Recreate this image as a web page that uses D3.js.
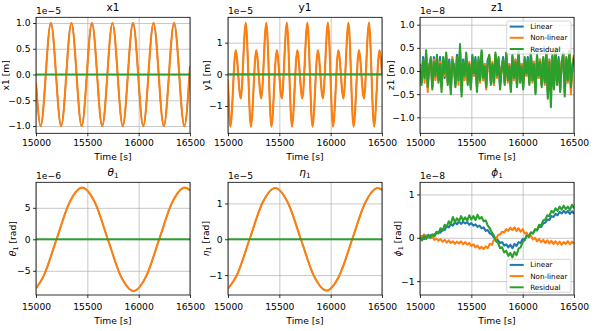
<!DOCTYPE html>
<html>
<head>
<meta charset="utf-8">
<script src="https://cdn.jsdelivr.net/npm/d3@7"></script>
<style>
  body { margin: 0; background: #fff; }
  text { font-family: "DejaVu Sans", sans-serif; fill: #000; }
</style>
</head>
<body>
<svg id="fig"></svg>
<script>
// ---- data ----
const timeTicks = [15000, 15500, 16000, 16500];

// x1: oscillation, period ~200 s (extrema)
const x1T = [15000, 15045, 15145, 15245, 15345, 15445, 15545, 15645, 15745, 15845, 15945, 16045, 16145, 16245, 16345, 16445, 16500];
const x1V = [-0.16, -1.0, 1.0, -1.0, 1.0, -1.0, 1.0, -1.0, 1.0, -1.0, 1.0, -1.0, 1.0, -1.0, 1.0, -1.0, 0.16];

// y1: two-frequency oscillation (extrema)
const y1T = [15000,
  15023, 15075, 15124, 15173, 15223, 15275, 15324, 15373,
  15423, 15475, 15524, 15573, 15623, 15675, 15724, 15773,
  15823, 15875, 15924, 15973, 16023, 16075, 16124, 16173,
  16223, 16275, 16324, 16373, 16423, 16475, 16500];
const y1V = [-0.2,
  -1.65, 0.76, -0.76, 1.63, -1.65, 0.76, -0.76, 1.63,
  -1.65, 0.76, -0.76, 1.63, -1.65, 0.76, -0.76, 1.63,
  -1.65, 0.76, -0.76, 1.63, -1.65, 0.76, -0.76, 1.63,
  -1.65, 0.76, -0.76, 1.63, -1.65, 0.76, 0.0];

// theta1 / eta1: slow oscillation, period ~1000 s
const thT = [15000, 15075, 15200, 15325, 15450, 15575, 15700, 15825, 15950, 16075, 16200, 16325, 16450, 16500];
const thV = [-7.8, -5.8, 0, 5.8, 8.2, 5.8, 0, -5.8, -8.2, -5.8, 0, 5.8, 8.2, 7.8];
const etT = [15000, 15085, 15210, 15335, 15460, 15585, 15710, 15835, 15960, 16085, 16210, 16335, 16460, 16500];
const etV = [-1.38, -1.01, 0, 1.01, 1.43, 1.01, 0, -1.01, -1.43, -1.01, 0, 1.01, 1.43, 1.38];

// residuals of the smooth channels stay at zero
const flatT = [15000, 16500];
const flatV = [0, 0];

// z1: noise, sampled every 15 s
const zT = d3.range(15000, 16501, 15);
const zLin = [0.15,-0.25,0.30,-0.10,0.35,-0.25,0.05,0.25,-0.35,0.30,
  -0.15,0.25,-0.20,0.30,-0.30,0.20,-0.15,0.35,-0.20,0.25,
  -0.40,0.20,0.15,-0.30,0.35,-0.15,0.45,-0.45,0.25,-0.15,
  0.35,-0.20,0.10,-0.35,0.30,-0.10,0.30,-0.35,0.20,-0.15,
  0.40,-0.20,0.15,-0.30,0.25,0.30,-0.20,0.10,-0.30,0.35,
  -0.05,0.25,-0.35,0.10,0.30,-0.25,0.35,-0.15,0.15,-0.40,
  0.30,-0.10,0.25,-0.30,0.40,-0.20,0.15,-0.35,0.25,-0.10,
  0.30,-0.25,0.35,-0.15,0.20,-0.45,0.30,-0.15,0.25,-0.30,
  0.25,-0.20,0.40,-0.50,0.25,-0.45,0.30,-0.35,0.45,-0.25,
  0.30,-0.40,0.20,0.35,-0.45,0.25,-0.15,0.40,-0.30,0.15,0.25];
const zNon = [0.10,-0.20,0.20,-0.25,0.30,-0.45,0.15,0.20,-0.30,0.25,
  -0.20,0.30,-0.15,0.20,-0.35,0.25,-0.10,0.30,-0.25,0.15,
  -0.35,0.30,0.05,-0.25,0.25,-0.30,0.40,-0.40,0.15,-0.20,
  0.30,-0.25,0.20,-0.30,0.30,-0.10,0.20,-0.35,0.25,-0.25,
  0.35,-0.20,0.15,-0.40,0.15,0.30,-0.25,0.20,-0.30,0.35,
  -0.15,0.25,-0.30,0.10,0.20,-0.25,0.35,-0.25,0.15,-0.35,
  0.30,-0.20,0.25,-0.30,0.40,-0.20,0.15,-0.30,0.25,-0.10,
  0.20,-0.25,0.35,-0.25,0.20,-0.40,0.30,-0.15,0.25,-0.30,
  0.25,-0.30,0.40,-0.45,0.25,-0.50,0.30,-0.35,0.40,-0.25,
  0.20,-0.40,0.20,0.35,-0.45,0.25,-0.25,0.40,-0.50,0.15,0.35];
const zRes = [0.05,-0.30,0.25,-0.15,0.45,-0.35,0.10,0.30,-0.40,0.20,
  -0.10,0.35,-0.25,0.15,-0.45,0.30,-0.05,0.40,-0.30,0.20,
  -0.50,0.25,0.10,-0.35,0.30,-0.20,0.58,-0.55,0.20,-0.10,
  0.40,-0.30,0.15,-0.40,0.35,-0.05,0.25,-0.45,0.30,-0.20,
  0.45,-0.15,0.10,-0.35,0.20,0.35,-0.30,0.15,-0.25,0.40,
  -0.10,0.30,-0.40,0.05,0.25,-0.30,0.40,-0.20,0.10,-0.45,
  0.35,-0.15,0.20,-0.35,0.45,-0.25,0.10,-0.40,0.30,-0.05,
  0.25,-0.30,0.40,-0.20,0.15,-0.50,0.35,-0.10,0.20,-0.35,
  0.30,-0.25,0.45,-0.60,0.20,-0.78,0.35,-0.40,0.50,-0.30,
  0.25,-0.45,0.15,0.40,-0.55,0.30,-0.20,0.45,-0.35,0.10,0.30];

// phi1: slow drift plus noise, sampled every 20 s
const phT = d3.range(15000, 16501, 20);
const phLin = [0.00,0.04,-0.03,0.05,0.01,0.06,0.02,0.08,0.10,0.14,
  0.12,0.20,0.18,0.26,0.24,0.32,0.28,0.36,0.31,0.38,
  0.32,0.37,0.33,0.36,0.30,0.34,0.28,0.31,0.25,0.28,
  0.22,0.24,0.16,0.18,0.10,0.08,0.01,-0.02,-0.06,-0.12,
  -0.10,-0.18,-0.15,-0.22,-0.16,-0.24,-0.14,-0.19,-0.10,-0.12,
  -0.03,-0.05,0.06,0.03,0.12,0.10,0.18,0.17,0.26,0.25,
  0.33,0.35,0.42,0.41,0.50,0.48,0.55,0.52,0.60,0.56,
  0.62,0.57,0.62,0.55,0.61,0.56];
const phNon = [0.05,0.00,0.08,0.02,0.06,-0.01,0.03,-0.05,-0.02,-0.07,
  -0.03,-0.09,-0.05,-0.11,-0.06,-0.12,-0.08,-0.14,-0.09,-0.13,
  -0.08,-0.15,-0.10,-0.16,-0.12,-0.19,-0.15,-0.22,-0.18,-0.25,
  -0.21,-0.26,-0.20,-0.24,-0.14,-0.16,-0.05,-0.02,0.06,0.08,
  0.14,0.12,0.20,0.16,0.23,0.18,0.24,0.16,0.22,0.14,
  0.20,0.10,0.12,0.02,0.05,-0.04,0.00,-0.08,-0.03,-0.10,
  -0.05,-0.12,-0.06,-0.13,-0.07,-0.14,-0.08,-0.15,-0.09,-0.16,
  -0.10,-0.14,-0.08,-0.15,-0.09,-0.14];
const phRes = [0.02,-0.06,0.05,-0.03,0.07,0.00,0.08,0.03,0.14,0.10,
  0.22,0.16,0.30,0.25,0.38,0.32,0.48,0.36,0.45,0.38,
  0.50,0.40,0.47,0.39,0.52,0.42,0.50,0.41,0.53,0.44,
  0.48,0.38,0.40,0.28,0.22,0.12,0.05,-0.08,-0.12,-0.24,
  -0.22,-0.34,-0.30,-0.42,-0.35,-0.45,-0.33,-0.40,-0.25,-0.22,
  -0.10,-0.05,0.05,0.02,0.12,0.10,0.20,0.18,0.30,0.28,
  0.40,0.42,0.52,0.50,0.62,0.58,0.68,0.62,0.72,0.65,
  0.74,0.66,0.72,0.64,0.76,0.68];

const seriesNames = ['Linear', 'Non-linear', 'Residual'];
const colors = ['#1f77b4', '#ff7f0e', '#2ca02c'];

// ---- layout ----
const W = 598, H = 331;
const COLS = [36, 228, 420];
const PW = 154;
const ROWS = [
  {top: 17.3, h: 116, tickPad: 3.3, xlab: 26.8},
  {top: 182.3, h: 112.7, tickPad: 5, xlab: 29}
];
const FS = 9.2;   // tick / label font size

const panels = [
  {title: [{t: 'x1'}], ylabel: [{t: 'x1 [m]'}], exp: '1e\u22125', col: 0, row: 0,
   yDomain: [-1.142, 1.111], yTicks: [-1, -0.5, 0, 0.5, 1], fmt: '.1f', ylabX: -27.3, smooth: true,
   data: [[x1T, x1V], [x1T, x1V], [flatT, flatV]]},
  {title: [{t: 'y1'}], ylabel: [{t: 'y1 [m]'}], exp: '1e\u22125', col: 1, row: 0,
   yDomain: [-1.86, 1.80], yTicks: [-1, 0, 1], fmt: 'd', ylabX: -18, smooth: true,
   data: [[y1T, y1V], [y1T, y1V], [flatT, flatV]]},
  {title: [{t: 'z1'}], ylabel: [{t: 'z1 [m]'}], exp: '1e\u22128', col: 2, row: 0,
   yDomain: [-1.345, 1.16], yTicks: [-1, -0.5, 0, 0.5, 1], fmt: '.1f', ylabX: -26.3, smooth: false,
   data: [[zT, zLin], [zT, zNon], [zT, zRes]], legend: {x: 506.7, y: 21}},
  {title: [{t: '\u03b8', it: true}, {t: '1', sub: true}], ylabel: [{t: '\u03b8', it: true}, {t: '1', sub: true}, {t: ' [rad]'}],
   exp: '1e\u22126', col: 0, row: 1,
   yDomain: [-8.84, 9.05], yTicks: [-5, 0, 5], fmt: 'd', ylabX: -20.5, smooth: true,
   data: [[thT, thV], [thT, thV], [flatT, flatV]]},
  {title: [{t: '\u03b7', it: true}, {t: '1', sub: true}], ylabel: [{t: '\u03b7', it: true}, {t: '1', sub: true}, {t: ' [rad]'}],
   exp: '1e\u22125', col: 1, row: 1,
   yDomain: [-1.556, 1.59], yTicks: [-1, 0, 1], fmt: 'd', ylabX: -19, smooth: true,
   data: [[etT, etV], [etT, etV], [flatT, flatV]]},
  {title: [{t: '\u03d5', it: true}, {t: '1', sub: true}], ylabel: [{t: '\u03d5', it: true}, {t: '1', sub: true}, {t: ' [rad]'}],
   exp: '1e\u22128', col: 2, row: 1,
   yDomain: [-1.32, 1.28], yTicks: [-1, 0, 1], fmt: 'd', ylabX: -19, smooth: false,
   data: [[phT, phLin], [phT, phNon], [phT, phRes]], legend: {x: 506.7, y: 259.3}}
];

const svg = d3.select('#fig').attr('width', W).attr('height', H);
svg.append('rect').attr('width', W).attr('height', H).attr('fill', '#fff');

// write a label that may hold italic greek letters and subscripts
function mathText(sel, parts, size) {
  let down = false;
  parts.forEach(p => {
    const ts = sel.append('tspan').text(p.t);
    if (p.it) ts.attr('font-style', 'italic');
    if (p.sub) {
      ts.attr('font-size', size * 0.7).attr('dy', size * 0.22);
      down = true;
    } else if (down) {
      ts.attr('dy', -size * 0.22);
      down = false;
    }
  });
}

const minus = s => s.replace('-', '\u2212');

panels.forEach((p, i) => {
  const left = COLS[p.col];
  const row = ROWS[p.row];
  const top = row.top;
  const ph = row.h;

  const x = d3.scaleLinear().domain([15000, 16500]).range([0, PW]);
  const y = d3.scaleLinear().domain(p.yDomain).range([ph, 0]);

  const g = svg.append('g').attr('transform', `translate(${left},${top})`);

  g.append('clipPath').attr('id', 'clip' + i)
    .append('rect').attr('width', PW).attr('height', ph);

  // grid
  g.append('g').attr('transform', `translate(0,${ph})`)
    .call(d3.axisBottom(x).tickValues(timeTicks).tickSize(-ph).tickFormat(''))
    .call(a => a.select('.domain').remove())
    .selectAll('line').attr('stroke', '#b0b0b0').attr('stroke-width', 0.7);
  g.append('g')
    .call(d3.axisLeft(y).tickValues(p.yTicks).tickSize(-PW).tickFormat(''))
    .call(a => a.select('.domain').remove())
    .selectAll('line').attr('stroke', '#b0b0b0').attr('stroke-width', 0.7);

  // lines
  const line = d3.line()
    .x(d => x(d[0]))
    .y(d => y(d[1]))
    .curve(p.smooth ? d3.curveMonotoneX : d3.curveLinear);

  p.data.forEach((s, k) => {
    const pts = s[0].map((t, j) => [t, s[1][j]]);
    // on the smooth panels the linear curve lies fully under the non-linear one
    const sw = (p.smooth && k === 0) ? 1.4 : 2.1;
    g.append('path')
      .datum(pts)
      .attr('clip-path', `url(#clip${i})`)
      .attr('fill', 'none')
      .attr('stroke', colors[k])
      .attr('stroke-width', sw)
      .attr('stroke-linejoin', 'round')
      .attr('d', line);
  });

  // spines
  g.append('rect').attr('width', PW).attr('height', ph)
    .attr('fill', 'none').attr('stroke', '#000').attr('stroke-width', 0.8);

  // axes
  const xa = g.append('g').attr('transform', `translate(0,${ph})`)
    .call(d3.axisBottom(x).tickValues(timeTicks).tickSize(3).tickPadding(row.tickPad).tickFormat(d3.format('d')));
  const ya = g.append('g')
    .call(d3.axisLeft(y).tickValues(p.yTicks).tickSize(3).tickPadding(2.5)
      .tickFormat(d => minus(d3.format(p.fmt)(d))));
  [xa, ya].forEach(a => {
    a.select('.domain').remove();
    a.attr('font-family', null).attr('font-size', null);
    a.selectAll('line').attr('stroke', '#000').attr('stroke-width', 0.8);
    a.selectAll('text').attr('font-size', FS).attr('fill', '#000');
  });

  // offset text
  g.append('text').attr('x', 0).attr('y', -3.3)
    .attr('font-size', FS).text(p.exp);

  // title
  const tt = g.append('text').attr('x', PW / 2).attr('y', -6.6)
    .attr('text-anchor', 'middle').attr('font-size', 10.5);
  mathText(tt, p.title, 10.5);

  // x label
  g.append('text').attr('x', PW / 2).attr('y', ph + row.xlab)
    .attr('text-anchor', 'middle').attr('font-size', FS).text('Time [s]');

  // y label
  const yl = g.append('text')
    .attr('transform', `translate(${p.ylabX},${ph / 2}) rotate(-90)`)
    .attr('text-anchor', 'middle').attr('font-size', FS);
  mathText(yl, p.ylabel, FS);

  // legend
  if (p.legend) {
    const lg = svg.append('g').attr('transform', `translate(${p.legend.x},${p.legend.y})`);
    lg.append('rect').attr('width', 64.3).attr('height', 33)
      .attr('rx', 2).attr('fill', '#fff').attr('fill-opacity', 0.8)
      .attr('stroke', '#cccccc').attr('stroke-width', 0.8);
    seriesNames.forEach((name, k) => {
      const yy = 5.6 + k * 11.2;
      lg.append('line').attr('x1', 3).attr('x2', 17).attr('y1', yy).attr('y2', yy)
        .attr('stroke', colors[k]).attr('stroke-width', 2);
      lg.append('text').attr('x', 23.5).attr('y', yy + 2.6)
        .attr('font-size', 7.2).text(name);
    });
  }
});
</script>
</body>
</html>
